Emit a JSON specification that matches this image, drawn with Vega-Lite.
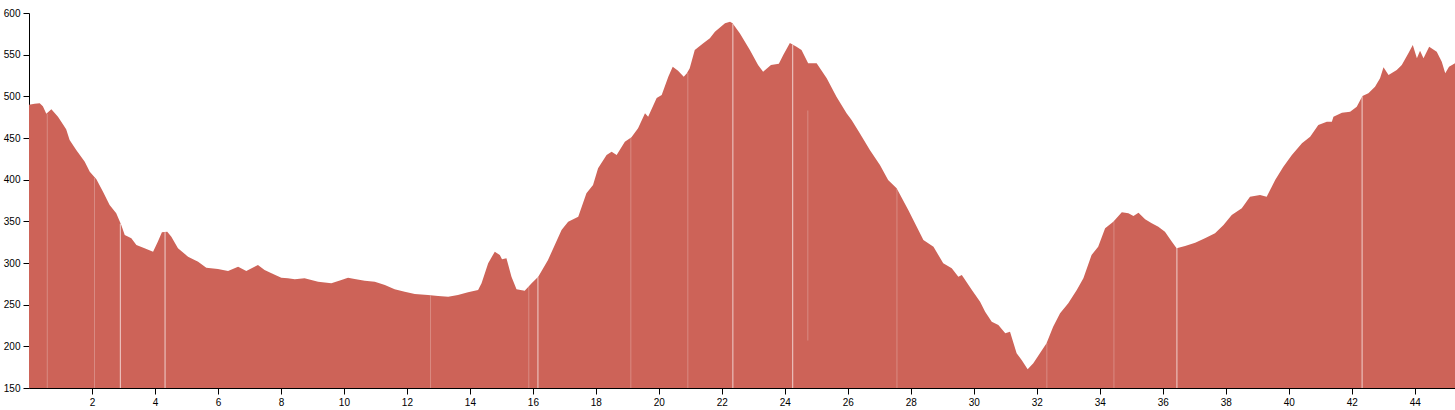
{
  "$schema": "https://vega.github.io/schema/vega-lite/v6.json",
  "width": 1426,
  "height": 375,
  "autosize": {"type": "none"},
  "padding": {"left": 29, "top": 13, "right": 0, "bottom": 22},
  "background": "white",
  "config": {
    "view": {"stroke": null},
    "axis": {
      "grid": false,
      "title": null,
      "labelFont": "Liberation Sans",
      "labelFontSize": 10,
      "labelColor": "#000",
      "domainColor": "#000",
      "tickColor": "#000",
      "tickSize": 6,
      "labelPadding": 3,
      "labelOverlap": false,
      "labelFlush": false,
      "labelBound": false
    }
  },
  "datasets": {
    "profile": [
      {"km": 0, "elev": 490}, {"km": 0.18, "elev": 491}, {"km": 0.34, "elev": 491.6}, {"km": 0.44, "elev": 488},
      {"km": 0.55, "elev": 479}, {"km": 0.71, "elev": 484.4}, {"km": 0.92, "elev": 475.6}, {"km": 1.18, "elev": 460.4},
      {"km": 1.29, "elev": 447.6}, {"km": 1.5, "elev": 435.6}, {"km": 1.77, "elev": 421.6}, {"km": 1.93, "elev": 409.6},
      {"km": 2.14, "elev": 400.4}, {"km": 2.35, "elev": 385.6}, {"km": 2.56, "elev": 369.6}, {"km": 2.77, "elev": 359.6},
      {"km": 2.93, "elev": 345.6}, {"km": 3.04, "elev": 333.6}, {"km": 3.25, "elev": 329.6}, {"km": 3.41, "elev": 321.6},
      {"km": 3.67, "elev": 317.6}, {"km": 3.94, "elev": 313.6}, {"km": 4.09, "elev": 325.6}, {"km": 4.22, "elev": 336.8},
      {"km": 4.39, "elev": 337.6}, {"km": 4.52, "elev": 331.6}, {"km": 4.73, "elev": 317.6}, {"km": 5.05, "elev": 307.6},
      {"km": 5.37, "elev": 301.6}, {"km": 5.63, "elev": 294.4}, {"km": 6.0, "elev": 292.8}, {"km": 6.32, "elev": 290.4},
      {"km": 6.64, "elev": 295.6}, {"km": 6.9, "elev": 290.4}, {"km": 7.27, "elev": 297.6}, {"km": 7.48, "elev": 291.6},
      {"km": 7.7, "elev": 287.6}, {"km": 8.01, "elev": 282.4}, {"km": 8.22, "elev": 281.6}, {"km": 8.44, "elev": 280.4},
      {"km": 8.75, "elev": 281.6}, {"km": 9.18, "elev": 277.6}, {"km": 9.6, "elev": 275.6}, {"km": 9.92, "elev": 279.6},
      {"km": 10.13, "elev": 282.4}, {"km": 10.34, "elev": 280.8}, {"km": 10.66, "elev": 278.8}, {"km": 10.98, "elev": 277.6},
      {"km": 11.3, "elev": 273.6}, {"km": 11.61, "elev": 268.4}, {"km": 11.93, "elev": 265.6}, {"km": 12.25, "elev": 262.8},
      {"km": 12.67, "elev": 261.6}, {"km": 12.99, "elev": 260.4}, {"km": 13.31, "elev": 259.6}, {"km": 13.62, "elev": 261.6},
      {"km": 13.94, "elev": 264.8}, {"km": 14.26, "elev": 267.6}, {"km": 14.37, "elev": 275.6}, {"km": 14.58, "elev": 299.6},
      {"km": 14.79, "elev": 313.6}, {"km": 14.95, "elev": 309.6}, {"km": 15.02, "elev": 304.4}, {"km": 15.16, "elev": 305.6},
      {"km": 15.32, "elev": 283.6}, {"km": 15.48, "elev": 268.4}, {"km": 15.74, "elev": 266.8}, {"km": 15.96, "elev": 275.6},
      {"km": 16.17, "elev": 283.6}, {"km": 16.48, "elev": 303.6}, {"km": 16.91, "elev": 339.6}, {"km": 17.12, "elev": 349.6},
      {"km": 17.44, "elev": 355.6}, {"km": 17.7, "elev": 383.6}, {"km": 17.91, "elev": 393.6}, {"km": 18.07, "elev": 413.6},
      {"km": 18.34, "elev": 429.6}, {"km": 18.5, "elev": 433.6}, {"km": 18.66, "elev": 429.6}, {"km": 18.92, "elev": 445.6},
      {"km": 19.13, "elev": 450.8}, {"km": 19.34, "elev": 461.6}, {"km": 19.56, "elev": 479.6}, {"km": 19.66, "elev": 475.6},
      {"km": 19.93, "elev": 498}, {"km": 20.09, "elev": 501.6}, {"km": 20.3, "elev": 523.6}, {"km": 20.44, "elev": 535.6},
      {"km": 20.61, "elev": 530.6}, {"km": 20.79, "elev": 523.6}, {"km": 20.89, "elev": 527.6}, {"km": 20.98, "elev": 533.6},
      {"km": 21.14, "elev": 555.6}, {"km": 21.41, "elev": 563.6}, {"km": 21.62, "elev": 569.6}, {"km": 21.78, "elev": 577.6},
      {"km": 22.1, "elev": 587.6}, {"km": 22.26, "elev": 589.6}, {"km": 22.34, "elev": 587.6}, {"km": 22.57, "elev": 575.6},
      {"km": 22.89, "elev": 555.6}, {"km": 23.15, "elev": 537.6}, {"km": 23.31, "elev": 529.6}, {"km": 23.56, "elev": 537.6},
      {"km": 23.81, "elev": 539}, {"km": 23.95, "elev": 549.6}, {"km": 24.16, "elev": 564}, {"km": 24.37, "elev": 559.6},
      {"km": 24.53, "elev": 555.6}, {"km": 24.74, "elev": 539.6}, {"km": 25.01, "elev": 539.6}, {"km": 25.33, "elev": 521.6},
      {"km": 25.64, "elev": 499.6}, {"km": 25.96, "elev": 479.6}, {"km": 26.12, "elev": 471.6}, {"km": 26.38, "elev": 455.6},
      {"km": 26.7, "elev": 435.6}, {"km": 27.02, "elev": 417.6}, {"km": 27.28, "elev": 399.6}, {"km": 27.55, "elev": 389.6},
      {"km": 27.92, "elev": 363.6}, {"km": 28.4, "elev": 327.6}, {"km": 28.72, "elev": 319.6}, {"km": 29.03, "elev": 299.6},
      {"km": 29.3, "elev": 293.6}, {"km": 29.51, "elev": 283.6}, {"km": 29.62, "elev": 285.6}, {"km": 29.94, "elev": 267.6},
      {"km": 30.2, "elev": 253.6}, {"km": 30.36, "elev": 241.6}, {"km": 30.57, "elev": 229.6}, {"km": 30.78, "elev": 225.6},
      {"km": 31.0, "elev": 215.6}, {"km": 31.15, "elev": 217.6}, {"km": 31.36, "elev": 191.6}, {"km": 31.52, "elev": 183.6},
      {"km": 31.71, "elev": 172.4}, {"km": 31.89, "elev": 179.6}, {"km": 32.1, "elev": 191.6}, {"km": 32.31, "elev": 203.6},
      {"km": 32.52, "elev": 223.6}, {"km": 32.74, "elev": 239.6}, {"km": 33.0, "elev": 251.6}, {"km": 33.27, "elev": 267.6},
      {"km": 33.48, "elev": 281.6}, {"km": 33.74, "elev": 309.6}, {"km": 33.95, "elev": 319.6}, {"km": 34.17, "elev": 341.6},
      {"km": 34.43, "elev": 349.6}, {"km": 34.7, "elev": 360.8}, {"km": 34.91, "elev": 359.6}, {"km": 35.07, "elev": 356.4},
      {"km": 35.23, "elev": 360.4}, {"km": 35.44, "elev": 352.4}, {"km": 35.65, "elev": 347.6}, {"km": 35.86, "elev": 343.6},
      {"km": 36.07, "elev": 337.6}, {"km": 36.29, "elev": 325.6}, {"km": 36.44, "elev": 317.6}, {"km": 36.71, "elev": 320.4},
      {"km": 37.03, "elev": 324.4}, {"km": 37.34, "elev": 329.6}, {"km": 37.66, "elev": 335.6}, {"km": 37.93, "elev": 345.6},
      {"km": 38.19, "elev": 357.6}, {"km": 38.51, "elev": 365.6}, {"km": 38.77, "elev": 379.6}, {"km": 39.09, "elev": 381.6},
      {"km": 39.3, "elev": 379.6}, {"km": 39.57, "elev": 399.6}, {"km": 39.83, "elev": 415.6}, {"km": 40.1, "elev": 429.6},
      {"km": 40.42, "elev": 443.6}, {"km": 40.68, "elev": 451.6}, {"km": 40.94, "elev": 465.6}, {"km": 41.21, "elev": 469.6},
      {"km": 41.37, "elev": 469.6}, {"km": 41.42, "elev": 475.6}, {"km": 41.69, "elev": 480.4}, {"km": 41.95, "elev": 481.6},
      {"km": 42.16, "elev": 487.6}, {"km": 42.34, "elev": 500.4}, {"km": 42.53, "elev": 503.6}, {"km": 42.74, "elev": 511.6},
      {"km": 42.9, "elev": 521.6}, {"km": 43.01, "elev": 534.8}, {"km": 43.17, "elev": 525.6}, {"km": 43.43, "elev": 531.6},
      {"km": 43.59, "elev": 537.6}, {"km": 43.8, "elev": 551.6}, {"km": 43.94, "elev": 561.6}, {"km": 44.07, "elev": 545.6},
      {"km": 44.17, "elev": 554.8}, {"km": 44.28, "elev": 545.6}, {"km": 44.46, "elev": 559.6}, {"km": 44.7, "elev": 553.6},
      {"km": 44.86, "elev": 541.6}, {"km": 44.97, "elev": 527.6}, {"km": 45.09, "elev": 535.6}, {"km": 45.28, "elev": 539.6}
    ],
    "gaps_faint": [
      {"km": 0.58, "top": 479, "bottom": 150},
      {"km": 2.08, "top": 402, "bottom": 150},
      {"km": 12.75, "top": 261, "bottom": 150},
      {"km": 15.87, "top": 272, "bottom": 150},
      {"km": 19.11, "top": 450, "bottom": 150},
      {"km": 20.92, "top": 528, "bottom": 150},
      {"km": 24.73, "top": 483, "bottom": 207},
      {"km": 27.56, "top": 389, "bottom": 150},
      {"km": 32.32, "top": 204, "bottom": 150},
      {"km": 34.45, "top": 350, "bottom": 150}
    ],
    "gaps_clear": [
      {"km": 2.9, "top": 347, "bottom": 150},
      {"km": 4.32, "top": 337, "bottom": 150},
      {"km": 16.16, "top": 283, "bottom": 150},
      {"km": 22.35, "top": 587, "bottom": 150},
      {"km": 24.25, "top": 562, "bottom": 150},
      {"km": 36.45, "top": 318, "bottom": 150},
      {"km": 42.33, "top": 500, "bottom": 150}
    ]
  },
  "layer": [
    {
      "data": {"name": "profile"},
      "mark": {"type": "area", "color": "#cd6358", "clip": true, "interpolate": "linear"},
      "encoding": {
        "x": {
          "field": "km", "type": "quantitative",
          "scale": {"domain": [0, 45.28], "nice": false, "zero": false},
          "axis": {"values": [2, 4, 6, 8, 10, 12, 14, 16, 18, 20, 22, 24, 26, 28, 30, 32, 34, 36, 38, 40, 42, 44]}
        },
        "y": {
          "field": "elev", "type": "quantitative",
          "scale": {"domain": [150, 600], "nice": false, "zero": false},
          "axis": {"values": [150, 200, 250, 300, 350, 400, 450, 500, 550, 600]}
        },
        "y2": {"datum": 150}
      }
    },
    {
      "data": {"name": "gaps_faint"},
      "mark": {"type": "rule", "color": "#ffffff", "opacity": 0.25, "strokeWidth": 1},
      "encoding": {
        "x": {"field": "km", "type": "quantitative"},
        "y": {"field": "top", "type": "quantitative"},
        "y2": {"field": "bottom"}
      }
    },
    {
      "data": {"name": "gaps_clear"},
      "mark": {"type": "rule", "color": "#ffffff", "opacity": 0.7, "strokeWidth": 1},
      "encoding": {
        "x": {"field": "km", "type": "quantitative"},
        "y": {"field": "top", "type": "quantitative"},
        "y2": {"field": "bottom"}
      }
    }
  ]
}
